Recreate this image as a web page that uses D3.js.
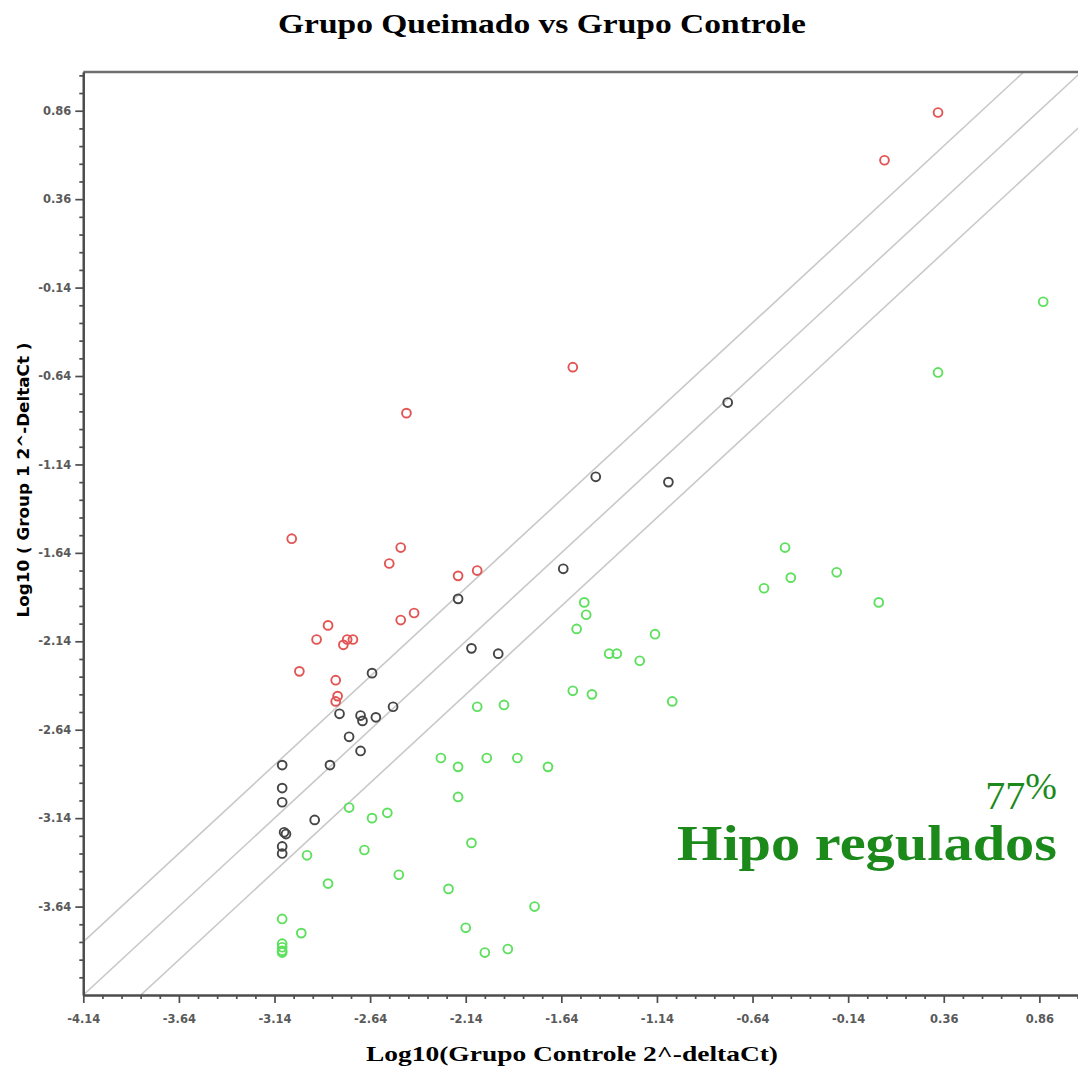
<!DOCTYPE html>
<html>
<head>
<meta charset="utf-8">
<script src="https://cdn.jsdelivr.net/npm/d3@7"></script>
<style>
  body { margin: 0; background: #fff; }
  svg { display: block; }
</style>
</head>
<body>
<svg id="chart" width="1078" height="1070"></svg>
<script>
// Axis tick values (log10 scale), shared by both axes
const majorTicks = [-4.14, -3.64, -3.14, -2.64, -2.14, -1.64, -1.14, -0.64, -0.14, 0.36, 0.86];

// Fold-change boundaries: y = x + c  (c = ±log10(2) and identity)
const foldOffsets = [0.301, 0, -0.301];

// Genes up-regulated in the burned group (above the upper boundary)
const upRegulated = [
  [0.33, 0.85], [0.05, 0.58], [-1.58, -0.59], [-2.45, -0.85], [-3.05, -1.56],
  [-2.48, -1.61], [-2.54, -1.70], [-2.18, -1.77], [-2.08, -1.74], [-2.86, -2.05],
  [-2.41, -1.98], [-2.48, -2.02], [-2.92, -2.13], [-2.73, -2.13], [-2.76, -2.13],
  [-2.78, -2.16], [-3.01, -2.31], [-2.82, -2.36], [-2.81, -2.45], [-2.82, -2.48]
];

// Genes with no change between the boundaries
const unchanged = [
  [-0.77, -0.79], [-1.46, -1.21], [-1.08, -1.24], [-1.63, -1.73], [-2.18, -1.90],
  [-2.11, -2.18], [-1.97, -2.21], [-2.63, -2.32], [-2.80, -2.55], [-2.69, -2.56],
  [-2.68, -2.59], [-2.61, -2.57], [-2.52, -2.51], [-2.75, -2.68], [-2.69, -2.76],
  [-3.10, -2.84], [-2.85, -2.84], [-3.10, -2.97], [-3.10, -3.05], [-2.93, -3.15],
  [-3.09, -3.22], [-3.08, -3.23], [-3.10, -3.30], [-3.10, -3.34]
];

// Genes down-regulated in the burned group (below the lower boundary)
const downRegulated = [
  [0.88, -0.22], [0.33, -0.62], [-0.47, -1.61], [-0.20, -1.75], [-0.44, -1.78],
  [-0.58, -1.84], [0.02, -1.92], [-1.52, -1.92], [-1.51, -1.99], [-1.56, -2.07],
  [-1.15, -2.10], [-1.39, -2.21], [-1.35, -2.21], [-1.23, -2.25], [-1.58, -2.42],
  [-1.48, -2.44], [-1.06, -2.48], [-2.08, -2.51], [-1.94, -2.50], [-2.27, -2.80],
  [-2.18, -2.85], [-2.03, -2.80], [-1.87, -2.80], [-1.71, -2.85], [-2.18, -3.02],
  [-2.75, -3.08], [-2.63, -3.14], [-2.55, -3.11], [-2.11, -3.28], [-2.67, -3.32],
  [-2.97, -3.35], [-2.49, -3.46], [-2.86, -3.51], [-2.23, -3.54], [-1.78, -3.64],
  [-3.10, -3.71], [-3.00, -3.79], [-2.14, -3.76], [-2.04, -3.90], [-1.92, -3.88],
  [-3.10, -3.85], [-3.10, -3.87], [-3.10, -3.89], [-3.10, -3.90]
];

const titleText = "Grupo Queimado vs Grupo Controle";
const xLabelText = "Log10(Grupo Controle 2^-deltaCt)";
const yLabelText = "Log10 ( Group 1  2^-DeltaCt )";
const percentText = "77";
const summaryText = "Hipo regulados";

const svg = d3.select("#chart");
svg.append("rect").attr("width", 1078).attr("height", 1070).attr("fill", "#fff");

const plot = { left: 83.3, right: 1078, top: 72, bottom: 995 };

const x = d3.scaleLinear().domain([-4.14, 1.062]).range([plot.left, plot.right]);
const y = d3.scaleLinear().domain([-4.14, 1.079]).range([plot.bottom, plot.top]);

// minor ticks every 0.1 between the labelled ones
const minorTicks = d3.range(0, 53).map(i => Math.round((-4.14 + i * 0.1) * 100) / 100)
  .filter(v => !majorTicks.some(m => Math.abs(m - v) < 1e-6));

svg.append("clipPath").attr("id", "plotClip")
  .append("rect")
  .attr("x", plot.left).attr("y", plot.top)
  .attr("width", plot.right - plot.left).attr("height", plot.bottom - plot.top);

// Fold-change reference lines
const lineGen = d3.line().x(d => x(d[0])).y(d => y(d[1]));
svg.append("g").attr("clip-path", "url(#plotClip)")
  .selectAll("path").data(foldOffsets).join("path")
  .attr("d", c => lineGen([[-5.5, -5.5 + c], [2, 2 + c]]))
  .attr("fill", "none")
  .attr("stroke", "#c9c9c9")
  .attr("stroke-width", 1.6);

// Top frame line
svg.append("line")
  .attr("x1", plot.left).attr("x2", plot.right)
  .attr("y1", plot.top).attr("y2", plot.top)
  .attr("stroke", "#6e6e6e").attr("stroke-width", 2.5);

const fmt = d => d.toFixed(2);

function styleAxis(g) {
  g.select(".domain").attr("stroke", "#4d4d4d").attr("stroke-width", 2.2);
  g.selectAll(".tick line").attr("stroke", "#4d4d4d").attr("stroke-width", 1.7);
  g.selectAll(".tick text")
    .attr("fill", "#5a5a5a")
    .attr("font-family", "'DejaVu Sans', Verdana, sans-serif")
    .attr("font-weight", "bold")
    .attr("font-size", 11.5);
}

// X axis
svg.append("g").attr("transform", `translate(0,${plot.bottom})`)
  .call(d3.axisBottom(x).tickValues(minorTicks).tickSize(4).tickSizeOuter(0).tickFormat(""))
  .call(styleAxis);
svg.append("g").attr("transform", `translate(0,${plot.bottom})`)
  .call(d3.axisBottom(x).tickValues(majorTicks).tickSize(8).tickSizeOuter(0).tickPadding(12).tickFormat(fmt))
  .call(styleAxis);

// Y axis (the shared corner value is only labelled on the x axis)
svg.append("g").attr("transform", `translate(${plot.left},0)`)
  .call(d3.axisLeft(y).tickValues(minorTicks).tickSize(4).tickSizeOuter(0).tickFormat(""))
  .call(styleAxis);
svg.append("g").attr("transform", `translate(${plot.left},0)`)
  .call(d3.axisLeft(y).tickValues(majorTicks.slice(1)).tickSize(8).tickSizeOuter(0).tickPadding(4).tickFormat(fmt))
  .call(styleAxis);

// Gene markers
const groups = [
  { data: unchanged, color: "#454545" },
  { data: upRegulated, color: "#e35555" },
  { data: downRegulated, color: "#5ee05e" }
];
groups.forEach(grp => {
  svg.append("g").selectAll("circle").data(grp.data).join("circle")
    .attr("cx", d => x(d[0]))
    .attr("cy", d => y(d[1]))
    .attr("r", 4.4)
    .attr("fill", "none")
    .attr("stroke", grp.color)
    .attr("stroke-width", 1.9);
});

// Title
svg.append("text")
  .attr("x", 278).attr("y", 33)
  .attr("font-family", "'Liberation Serif', 'Times New Roman', serif")
  .attr("font-weight", "bold")
  .attr("font-size", 27)
  .attr("textLength", 528)
  .attr("lengthAdjust", "spacingAndGlyphs")
  .attr("fill", "#000")
  .text(titleText);

// X axis title
svg.append("text")
  .attr("x", 366).attr("y", 1061)
  .attr("font-family", "'Liberation Serif', 'Times New Roman', serif")
  .attr("font-weight", "bold")
  .attr("font-size", 21)
  .attr("textLength", 412)
  .attr("lengthAdjust", "spacingAndGlyphs")
  .attr("fill", "#000")
  .text(xLabelText);

// Y axis title
svg.append("text")
  .attr("transform", "translate(29,480) rotate(-90)")
  .attr("text-anchor", "middle")
  .attr("font-family", "'DejaVu Sans', Verdana, sans-serif")
  .attr("font-weight", "bold")
  .attr("font-size", 15)
  .attr("textLength", 275)
  .attr("lengthAdjust", "spacingAndGlyphs")
  .attr("fill", "#000")
  .text(yLabelText);

// Summary annotation
const pct = svg.append("text")
  .attr("x", 1057).attr("y", 809)
  .attr("text-anchor", "end")
  .attr("font-family", "'Liberation Serif', 'Times New Roman', serif")
  .attr("fill", "#1b8a1b");
pct.append("tspan").attr("font-size", 40).text(percentText);
pct.append("tspan").attr("font-size", 38).attr("dy", -10).text("%");

svg.append("text")
  .attr("x", 677).attr("y", 860)
  .attr("font-family", "'Liberation Serif', 'Times New Roman', serif")
  .attr("font-weight", "bold")
  .attr("font-size", 50)
  .attr("textLength", 380)
  .attr("lengthAdjust", "spacingAndGlyphs")
  .attr("fill", "#1b8a1b")
  .text(summaryText);
</script>
</body>
</html>
